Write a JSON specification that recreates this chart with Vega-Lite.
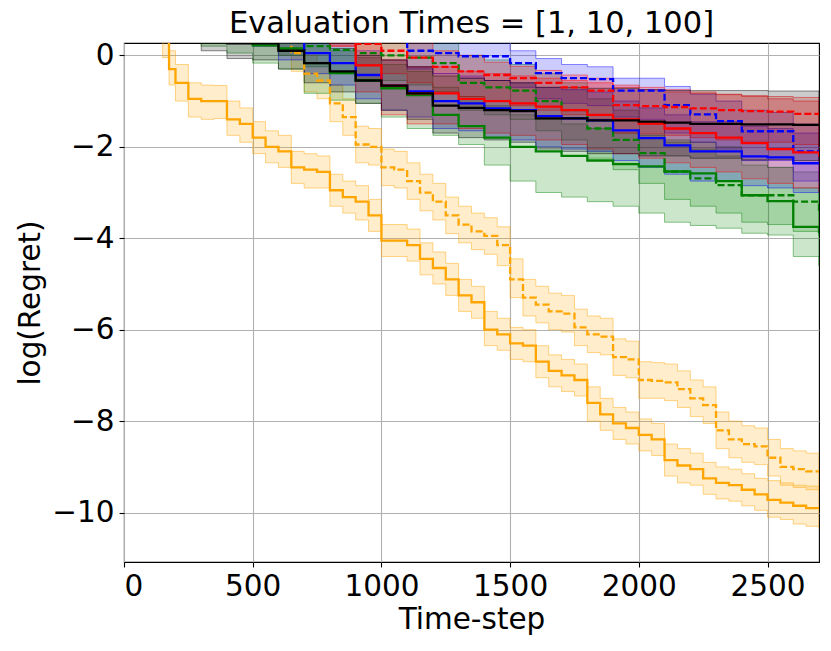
{
  "$schema": "https://vega.github.io/schema/vega-lite/v6.json",
  "autosize": {"type": "none"},
  "padding": {"left": 124, "top": 43, "right": 12, "bottom": 89},
  "width": 695,
  "height": 519,
  "background": "white",
  "title": {
    "text": "Evaluation Times = [1, 10, 100]",
    "font": "DejaVu Sans",
    "fontSize": 30.5,
    "fontWeight": "normal",
    "color": "black",
    "offset": 1
  },
  "datasets": {
    "runs": [
      {"m":"M1","s":"S1","x":0,"y":1.5,"lo":1.1,"hi":1.9},
      {"m":"M1","s":"S1","x":50,"y":1.2,"lo":0.8,"hi":1.6},
      {"m":"M1","s":"S1","x":100,"y":0.8,"lo":0.4,"hi":1.2},
      {"m":"M1","s":"S1","x":150,"y":0.35,"lo":-0.05,"hi":0.75},
      {"m":"M1","s":"S1","x":175,"y":-0.3,"lo":-0.65,"hi":0.1},
      {"m":"M1","s":"S1","x":200,"y":-0.6,"lo":-1.0,"hi":-0.2},
      {"m":"M1","s":"S1","x":250,"y":-0.95,"lo":-1.35,"hi":-0.6},
      {"m":"M1","s":"S1","x":300,"y":-1.0,"lo":-1.4,"hi":-0.65},
      {"m":"M1","s":"S1","x":350,"y":-1.0,"lo":-1.38,"hi":-0.66},
      {"m":"M1","s":"S1","x":400,"y":-1.4,"lo":-1.75,"hi":-1.0},
      {"m":"M1","s":"S1","x":450,"y":-1.5,"lo":-1.9,"hi":-1.15},
      {"m":"M1","s":"S1","x":500,"y":-1.8,"lo":-2.15,"hi":-1.45},
      {"m":"M1","s":"S1","x":550,"y":-2.0,"lo":-2.35,"hi":-1.65},
      {"m":"M1","s":"S1","x":600,"y":-2.1,"lo":-2.45,"hi":-1.75},
      {"m":"M1","s":"S1","x":650,"y":-2.45,"lo":-2.8,"hi":-2.1},
      {"m":"M1","s":"S1","x":700,"y":-2.5,"lo":-2.9,"hi":-2.15},
      {"m":"M1","s":"S1","x":750,"y":-2.55,"lo":-2.9,"hi":-2.2},
      {"m":"M1","s":"S1","x":800,"y":-2.95,"lo":-3.3,"hi":-2.6},
      {"m":"M1","s":"S1","x":850,"y":-3.1,"lo":-3.45,"hi":-2.75},
      {"m":"M1","s":"S1","x":900,"y":-3.2,"lo":-3.6,"hi":-2.85},
      {"m":"M1","s":"S1","x":950,"y":-3.5,"lo":-3.85,"hi":-3.15},
      {"m":"M1","s":"S1","x":1000,"y":-4.05,"lo":-4.4,"hi":-3.7},
      {"m":"M1","s":"S1","x":1050,"y":-4.05,"lo":-4.4,"hi":-3.7},
      {"m":"M1","s":"S1","x":1100,"y":-4.15,"lo":-4.5,"hi":-3.8},
      {"m":"M1","s":"S1","x":1150,"y":-4.45,"lo":-4.8,"hi":-4.1},
      {"m":"M1","s":"S1","x":1200,"y":-4.65,"lo":-5.0,"hi":-4.3},
      {"m":"M1","s":"S1","x":1250,"y":-4.9,"lo":-5.25,"hi":-4.55},
      {"m":"M1","s":"S1","x":1300,"y":-5.25,"lo":-5.6,"hi":-4.9},
      {"m":"M1","s":"S1","x":1350,"y":-5.4,"lo":-5.75,"hi":-5.05},
      {"m":"M1","s":"S1","x":1400,"y":-6.0,"lo":-6.35,"hi":-5.6},
      {"m":"M1","s":"S1","x":1450,"y":-6.1,"lo":-6.45,"hi":-5.75},
      {"m":"M1","s":"S1","x":1500,"y":-6.3,"lo":-6.65,"hi":-5.95},
      {"m":"M1","s":"S1","x":1550,"y":-6.35,"lo":-6.7,"hi":-6.0},
      {"m":"M1","s":"S1","x":1600,"y":-6.7,"lo":-7.05,"hi":-6.35},
      {"m":"M1","s":"S1","x":1650,"y":-6.9,"lo":-7.25,"hi":-6.55},
      {"m":"M1","s":"S1","x":1700,"y":-7.0,"lo":-7.35,"hi":-6.65},
      {"m":"M1","s":"S1","x":1750,"y":-7.1,"lo":-7.45,"hi":-6.75},
      {"m":"M1","s":"S1","x":1800,"y":-7.6,"lo":-8.0,"hi":-7.25},
      {"m":"M1","s":"S1","x":1850,"y":-7.85,"lo":-8.2,"hi":-7.5},
      {"m":"M1","s":"S1","x":1900,"y":-8.05,"lo":-8.4,"hi":-7.7},
      {"m":"M1","s":"S1","x":1950,"y":-8.15,"lo":-8.5,"hi":-7.8},
      {"m":"M1","s":"S1","x":2000,"y":-8.3,"lo":-8.65,"hi":-7.95},
      {"m":"M1","s":"S1","x":2050,"y":-8.4,"lo":-8.75,"hi":-8.05},
      {"m":"M1","s":"S1","x":2100,"y":-8.85,"lo":-9.2,"hi":-8.5},
      {"m":"M1","s":"S1","x":2150,"y":-8.97,"lo":-9.35,"hi":-8.6},
      {"m":"M1","s":"S1","x":2200,"y":-9.05,"lo":-9.4,"hi":-8.7},
      {"m":"M1","s":"S1","x":2250,"y":-9.25,"lo":-9.6,"hi":-8.9},
      {"m":"M1","s":"S1","x":2300,"y":-9.35,"lo":-9.7,"hi":-9.0},
      {"m":"M1","s":"S1","x":2350,"y":-9.4,"lo":-9.75,"hi":-9.05},
      {"m":"M1","s":"S1","x":2400,"y":-9.5,"lo":-9.85,"hi":-9.15},
      {"m":"M1","s":"S1","x":2450,"y":-9.6,"lo":-9.95,"hi":-9.25},
      {"m":"M1","s":"S1","x":2500,"y":-9.72,"lo":-10.1,"hi":-9.3},
      {"m":"M1","s":"S1","x":2550,"y":-9.78,"lo":-10.15,"hi":-9.35},
      {"m":"M1","s":"S1","x":2600,"y":-9.85,"lo":-10.25,"hi":-9.4},
      {"m":"M1","s":"S1","x":2650,"y":-9.9,"lo":-10.3,"hi":-9.42},
      {"m":"M1","s":"S1","x":2700,"y":-9.92,"lo":-10.35,"hi":-9.45},

      {"m":"M1","s":"S2","x":0,"y":1.8,"lo":1.4,"hi":2.2},
      {"m":"M1","s":"S2","x":500,"y":0.8,"lo":0.4,"hi":1.2},
      {"m":"M1","s":"S2","x":550,"y":0.6,"lo":0.2,"hi":1.0},
      {"m":"M1","s":"S2","x":600,"y":0.4,"lo":0.0,"hi":0.8},
      {"m":"M1","s":"S2","x":650,"y":0.05,"lo":-0.35,"hi":0.45},
      {"m":"M1","s":"S2","x":700,"y":-0.4,"lo":-0.8,"hi":0.0},
      {"m":"M1","s":"S2","x":750,"y":-0.55,"lo":-0.95,"hi":-0.15},
      {"m":"M1","s":"S2","x":800,"y":-1.05,"lo":-1.45,"hi":-0.65},
      {"m":"M1","s":"S2","x":850,"y":-1.35,"lo":-1.75,"hi":-0.95},
      {"m":"M1","s":"S2","x":900,"y":-1.95,"lo":-2.35,"hi":-1.55},
      {"m":"M1","s":"S2","x":950,"y":-2.0,"lo":-2.4,"hi":-1.6},
      {"m":"M1","s":"S2","x":1000,"y":-2.45,"lo":-2.85,"hi":-2.05},
      {"m":"M1","s":"S2","x":1050,"y":-2.5,"lo":-2.9,"hi":-2.1},
      {"m":"M1","s":"S2","x":1100,"y":-2.75,"lo":-3.15,"hi":-2.35},
      {"m":"M1","s":"S2","x":1150,"y":-3.0,"lo":-3.4,"hi":-2.6},
      {"m":"M1","s":"S2","x":1200,"y":-3.2,"lo":-3.6,"hi":-2.8},
      {"m":"M1","s":"S2","x":1250,"y":-3.5,"lo":-3.9,"hi":-3.1},
      {"m":"M1","s":"S2","x":1300,"y":-3.7,"lo":-4.1,"hi":-3.3},
      {"m":"M1","s":"S2","x":1350,"y":-3.85,"lo":-4.25,"hi":-3.45},
      {"m":"M1","s":"S2","x":1400,"y":-3.95,"lo":-4.35,"hi":-3.55},
      {"m":"M1","s":"S2","x":1450,"y":-4.15,"lo":-4.6,"hi":-3.75},
      {"m":"M1","s":"S2","x":1500,"y":-4.9,"lo":-5.3,"hi":-4.45},
      {"m":"M1","s":"S2","x":1550,"y":-5.3,"lo":-5.7,"hi":-4.9},
      {"m":"M1","s":"S2","x":1600,"y":-5.45,"lo":-5.85,"hi":-5.05},
      {"m":"M1","s":"S2","x":1650,"y":-5.6,"lo":-6.0,"hi":-5.2},
      {"m":"M1","s":"S2","x":1700,"y":-5.65,"lo":-6.05,"hi":-5.25},
      {"m":"M1","s":"S2","x":1750,"y":-5.95,"lo":-6.35,"hi":-5.55},
      {"m":"M1","s":"S2","x":1800,"y":-6.1,"lo":-6.5,"hi":-5.7},
      {"m":"M1","s":"S2","x":1850,"y":-6.15,"lo":-6.55,"hi":-5.75},
      {"m":"M1","s":"S2","x":1900,"y":-6.6,"lo":-7.0,"hi":-6.2},
      {"m":"M1","s":"S2","x":1950,"y":-6.65,"lo":-7.05,"hi":-6.25},
      {"m":"M1","s":"S2","x":2000,"y":-7.1,"lo":-7.5,"hi":-6.7},
      {"m":"M1","s":"S2","x":2050,"y":-7.12,"lo":-7.5,"hi":-6.72},
      {"m":"M1","s":"S2","x":2100,"y":-7.15,"lo":-7.55,"hi":-6.75},
      {"m":"M1","s":"S2","x":2150,"y":-7.3,"lo":-7.7,"hi":-6.9},
      {"m":"M1","s":"S2","x":2200,"y":-7.5,"lo":-7.9,"hi":-7.1},
      {"m":"M1","s":"S2","x":2250,"y":-7.65,"lo":-8.05,"hi":-7.25},
      {"m":"M1","s":"S2","x":2300,"y":-8.2,"lo":-8.6,"hi":-7.8},
      {"m":"M1","s":"S2","x":2350,"y":-8.4,"lo":-8.8,"hi":-8.0},
      {"m":"M1","s":"S2","x":2400,"y":-8.5,"lo":-8.9,"hi":-8.1},
      {"m":"M1","s":"S2","x":2450,"y":-8.55,"lo":-8.95,"hi":-8.15},
      {"m":"M1","s":"S2","x":2500,"y":-8.8,"lo":-9.2,"hi":-8.4},
      {"m":"M1","s":"S2","x":2550,"y":-9.0,"lo":-9.4,"hi":-8.6},
      {"m":"M1","s":"S2","x":2600,"y":-9.05,"lo":-9.45,"hi":-8.65},
      {"m":"M1","s":"S2","x":2650,"y":-9.1,"lo":-9.5,"hi":-8.7},
      {"m":"M1","s":"S2","x":2700,"y":-9.12,"lo":-9.5,"hi":-8.72},

      {"m":"M2","s":"S1","x":0,"y":0.8,"lo":0.5,"hi":1.1},
      {"m":"M2","s":"S1","x":300,"y":0.6,"lo":0.2,"hi":1.0},
      {"m":"M2","s":"S1","x":400,"y":0.45,"lo":0.05,"hi":0.9},
      {"m":"M2","s":"S1","x":500,"y":0.22,"lo":-0.17,"hi":0.7},
      {"m":"M2","s":"S1","x":600,"y":0.15,"lo":-0.3,"hi":0.6},
      {"m":"M2","s":"S1","x":700,"y":-0.17,"lo":-0.83,"hi":0.3},
      {"m":"M2","s":"S1","x":800,"y":-0.39,"lo":-0.98,"hi":0.1},
      {"m":"M2","s":"S1","x":900,"y":-0.55,"lo":-1.05,"hi":-0.05},
      {"m":"M2","s":"S1","x":1000,"y":-0.72,"lo":-1.35,"hi":-0.2},
      {"m":"M2","s":"S1","x":1100,"y":-0.87,"lo":-1.6,"hi":-0.35},
      {"m":"M2","s":"S1","x":1200,"y":-1.3,"lo":-1.75,"hi":-0.7},
      {"m":"M2","s":"S1","x":1300,"y":-1.55,"lo":-1.95,"hi":-0.9},
      {"m":"M2","s":"S1","x":1400,"y":-1.8,"lo":-2.4,"hi":-1.1},
      {"m":"M2","s":"S1","x":1500,"y":-2.0,"lo":-2.75,"hi":-1.3},
      {"m":"M2","s":"S1","x":1600,"y":-2.1,"lo":-3.0,"hi":-1.4},
      {"m":"M2","s":"S1","x":1700,"y":-2.2,"lo":-3.1,"hi":-1.5},
      {"m":"M2","s":"S1","x":1800,"y":-2.3,"lo":-3.2,"hi":-1.6},
      {"m":"M2","s":"S1","x":1900,"y":-2.38,"lo":-3.3,"hi":-1.7},
      {"m":"M2","s":"S1","x":2000,"y":-2.43,"lo":-3.45,"hi":-1.75},
      {"m":"M2","s":"S1","x":2100,"y":-2.54,"lo":-3.65,"hi":-1.85},
      {"m":"M2","s":"S1","x":2200,"y":-2.58,"lo":-3.72,"hi":-1.9},
      {"m":"M2","s":"S1","x":2300,"y":-2.75,"lo":-3.78,"hi":-2.0},
      {"m":"M2","s":"S1","x":2400,"y":-3.06,"lo":-3.89,"hi":-2.3},
      {"m":"M2","s":"S1","x":2500,"y":-3.19,"lo":-3.93,"hi":-2.45},
      {"m":"M2","s":"S1","x":2600,"y":-3.75,"lo":-4.4,"hi":-2.9},
      {"m":"M2","s":"S1","x":2700,"y":-3.89,"lo":-4.6,"hi":-3.1},

      {"m":"M2","s":"S2","x":0,"y":0.8,"lo":0.5,"hi":1.1},
      {"m":"M2","s":"S2","x":500,"y":0.7,"lo":0.3,"hi":1.0},
      {"m":"M2","s":"S2","x":600,"y":0.45,"lo":0.0,"hi":0.9},
      {"m":"M2","s":"S2","x":700,"y":0.2,"lo":-0.25,"hi":0.7},
      {"m":"M2","s":"S2","x":800,"y":0.12,"lo":-0.4,"hi":0.6},
      {"m":"M2","s":"S2","x":900,"y":0.05,"lo":-0.5,"hi":0.55},
      {"m":"M2","s":"S2","x":1000,"y":0.0,"lo":-0.55,"hi":0.5},
      {"m":"M2","s":"S2","x":1100,"y":-0.05,"lo":-0.65,"hi":0.45},
      {"m":"M2","s":"S2","x":1200,"y":-0.17,"lo":-0.8,"hi":0.35},
      {"m":"M2","s":"S2","x":1300,"y":-0.6,"lo":-1.2,"hi":0.0},
      {"m":"M2","s":"S2","x":1400,"y":-0.7,"lo":-1.3,"hi":-0.1},
      {"m":"M2","s":"S2","x":1500,"y":-0.77,"lo":-1.4,"hi":-0.2},
      {"m":"M2","s":"S2","x":1600,"y":-1.0,"lo":-1.65,"hi":-0.4},
      {"m":"M2","s":"S2","x":1700,"y":-1.2,"lo":-1.85,"hi":-0.6},
      {"m":"M2","s":"S2","x":1800,"y":-1.6,"lo":-2.25,"hi":-0.95},
      {"m":"M2","s":"S2","x":1900,"y":-1.85,"lo":-2.5,"hi":-1.2},
      {"m":"M2","s":"S2","x":2000,"y":-2.14,"lo":-2.8,"hi":-1.5},
      {"m":"M2","s":"S2","x":2100,"y":-2.54,"lo":-3.15,"hi":-1.9},
      {"m":"M2","s":"S2","x":2200,"y":-2.69,"lo":-3.3,"hi":-2.05},
      {"m":"M2","s":"S2","x":2300,"y":-2.84,"lo":-3.45,"hi":-2.2},
      {"m":"M2","s":"S2","x":2400,"y":-3.06,"lo":-3.65,"hi":-2.4},
      {"m":"M2","s":"S2","x":2500,"y":-3.06,"lo":-3.7,"hi":-2.45},
      {"m":"M2","s":"S2","x":2600,"y":-3.2,"lo":-3.85,"hi":-2.55},
      {"m":"M2","s":"S2","x":2700,"y":-3.4,"lo":-3.95,"hi":-2.75},

      {"m":"M3","s":"S1","x":0,"y":0.8,"lo":0.5,"hi":1.1},
      {"m":"M3","s":"S1","x":500,"y":0.6,"lo":0.2,"hi":1.0},
      {"m":"M3","s":"S1","x":600,"y":0.3,"lo":-0.1,"hi":0.7},
      {"m":"M3","s":"S1","x":700,"y":0.05,"lo":-0.4,"hi":0.5},
      {"m":"M3","s":"S1","x":800,"y":-0.17,"lo":-0.65,"hi":0.3},
      {"m":"M3","s":"S1","x":900,"y":-0.43,"lo":-0.95,"hi":0.1},
      {"m":"M3","s":"S1","x":1000,"y":-0.66,"lo":-1.2,"hi":-0.1},
      {"m":"M3","s":"S1","x":1100,"y":-0.79,"lo":-1.35,"hi":-0.25},
      {"m":"M3","s":"S1","x":1200,"y":-1.0,"lo":-1.6,"hi":-0.4},
      {"m":"M3","s":"S1","x":1300,"y":-1.05,"lo":-1.65,"hi":-0.45},
      {"m":"M3","s":"S1","x":1400,"y":-1.16,"lo":-1.8,"hi":-0.55},
      {"m":"M3","s":"S1","x":1500,"y":-1.2,"lo":-1.85,"hi":-0.6},
      {"m":"M3","s":"S1","x":1600,"y":-1.33,"lo":-2.0,"hi":-0.7},
      {"m":"M3","s":"S1","x":1700,"y":-1.38,"lo":-2.05,"hi":-0.75},
      {"m":"M3","s":"S1","x":1800,"y":-1.42,"lo":-2.1,"hi":-0.8},
      {"m":"M3","s":"S1","x":1900,"y":-1.64,"lo":-2.3,"hi":-1.0},
      {"m":"M3","s":"S1","x":2000,"y":-1.81,"lo":-2.45,"hi":-1.15},
      {"m":"M3","s":"S1","x":2100,"y":-1.97,"lo":-2.6,"hi":-1.3},
      {"m":"M3","s":"S1","x":2200,"y":-2.1,"lo":-2.75,"hi":-1.45},
      {"m":"M3","s":"S1","x":2300,"y":-2.1,"lo":-2.75,"hi":-1.45},
      {"m":"M3","s":"S1","x":2400,"y":-2.21,"lo":-2.85,"hi":-1.55},
      {"m":"M3","s":"S1","x":2500,"y":-2.23,"lo":-2.9,"hi":-1.6},
      {"m":"M3","s":"S1","x":2600,"y":-2.36,"lo":-3.0,"hi":-1.7},
      {"m":"M3","s":"S1","x":2700,"y":-2.36,"lo":-3.0,"hi":-1.7},

      {"m":"M3","s":"S2","x":0,"y":0.9,"lo":0.6,"hi":1.2},
      {"m":"M3","s":"S2","x":1000,"y":0.6,"lo":0.3,"hi":1.0},
      {"m":"M3","s":"S2","x":1100,"y":0.1,"lo":-0.3,"hi":0.4},
      {"m":"M3","s":"S2","x":1200,"y":0.05,"lo":-0.4,"hi":0.35},
      {"m":"M3","s":"S2","x":1300,"y":-0.02,"lo":-0.5,"hi":0.28},
      {"m":"M3","s":"S2","x":1400,"y":-0.02,"lo":-0.55,"hi":0.28},
      {"m":"M3","s":"S2","x":1500,"y":-0.17,"lo":-0.7,"hi":0.1},
      {"m":"M3","s":"S2","x":1600,"y":-0.39,"lo":-0.95,"hi":-0.07},
      {"m":"M3","s":"S2","x":1700,"y":-0.5,"lo":-1.05,"hi":-0.2},
      {"m":"M3","s":"S2","x":1800,"y":-0.52,"lo":-1.1,"hi":-0.25},
      {"m":"M3","s":"S2","x":1900,"y":-0.77,"lo":-1.35,"hi":-0.5},
      {"m":"M3","s":"S2","x":2000,"y":-0.77,"lo":-1.4,"hi":-0.5},
      {"m":"M3","s":"S2","x":2100,"y":-1.09,"lo":-1.7,"hi":-0.68},
      {"m":"M3","s":"S2","x":2200,"y":-1.29,"lo":-1.9,"hi":-0.85},
      {"m":"M3","s":"S2","x":2300,"y":-1.44,"lo":-2.05,"hi":-1.0},
      {"m":"M3","s":"S2","x":2400,"y":-1.66,"lo":-2.3,"hi":-1.2},
      {"m":"M3","s":"S2","x":2500,"y":-1.66,"lo":-2.3,"hi":-1.25},
      {"m":"M3","s":"S2","x":2600,"y":-2.1,"lo":-2.75,"hi":-1.5},
      {"m":"M3","s":"S2","x":2700,"y":-2.1,"lo":-2.75,"hi":-1.55},

      {"m":"M4","s":"S1","x":0,"y":0.9,"lo":0.6,"hi":1.2},
      {"m":"M4","s":"S1","x":800,"y":0.6,"lo":0.2,"hi":1.0},
      {"m":"M4","s":"S1","x":900,"y":-0.22,"lo":-0.8,"hi":0.3},
      {"m":"M4","s":"S1","x":1000,"y":-0.66,"lo":-1.3,"hi":-0.1},
      {"m":"M4","s":"S1","x":1100,"y":-0.83,"lo":-1.5,"hi":-0.25},
      {"m":"M4","s":"S1","x":1200,"y":-0.83,"lo":-1.5,"hi":-0.25},
      {"m":"M4","s":"S1","x":1300,"y":-0.95,"lo":-1.6,"hi":-0.35},
      {"m":"M4","s":"S1","x":1400,"y":-1.0,"lo":-1.7,"hi":-0.4},
      {"m":"M4","s":"S1","x":1500,"y":-1.05,"lo":-1.75,"hi":-0.45},
      {"m":"M4","s":"S1","x":1600,"y":-1.12,"lo":-1.85,"hi":-0.5},
      {"m":"M4","s":"S1","x":1700,"y":-1.2,"lo":-1.95,"hi":-0.55},
      {"m":"M4","s":"S1","x":1800,"y":-1.3,"lo":-2.05,"hi":-0.6},
      {"m":"M4","s":"S1","x":1900,"y":-1.4,"lo":-2.15,"hi":-0.65},
      {"m":"M4","s":"S1","x":2000,"y":-1.49,"lo":-2.25,"hi":-0.7},
      {"m":"M4","s":"S1","x":2100,"y":-1.6,"lo":-2.35,"hi":-0.75},
      {"m":"M4","s":"S1","x":2200,"y":-1.7,"lo":-2.45,"hi":-0.8},
      {"m":"M4","s":"S1","x":2300,"y":-1.8,"lo":-2.55,"hi":-0.85},
      {"m":"M4","s":"S1","x":2400,"y":-1.92,"lo":-2.7,"hi":-0.9},
      {"m":"M4","s":"S1","x":2500,"y":-2.05,"lo":-2.8,"hi":-0.95},
      {"m":"M4","s":"S1","x":2600,"y":-2.12,"lo":-2.9,"hi":-1.0},
      {"m":"M4","s":"S1","x":2700,"y":-2.21,"lo":-3.0,"hi":-1.05},

      {"m":"M4","s":"S2","x":0,"y":0.9,"lo":0.6,"hi":1.2},
      {"m":"M4","s":"S2","x":800,"y":0.6,"lo":0.2,"hi":1.0},
      {"m":"M4","s":"S2","x":900,"y":0.25,"lo":-0.2,"hi":0.6},
      {"m":"M4","s":"S2","x":1000,"y":0.1,"lo":-0.4,"hi":0.45},
      {"m":"M4","s":"S2","x":1100,"y":-0.05,"lo":-0.6,"hi":0.3},
      {"m":"M4","s":"S2","x":1200,"y":-0.25,"lo":-0.8,"hi":0.1},
      {"m":"M4","s":"S2","x":1300,"y":-0.35,"lo":-0.9,"hi":0.0},
      {"m":"M4","s":"S2","x":1400,"y":-0.43,"lo":-1.0,"hi":-0.15},
      {"m":"M4","s":"S2","x":1500,"y":-0.5,"lo":-1.1,"hi":-0.24},
      {"m":"M4","s":"S2","x":1600,"y":-0.6,"lo":-1.2,"hi":-0.33},
      {"m":"M4","s":"S2","x":1700,"y":-0.7,"lo":-1.3,"hi":-0.43},
      {"m":"M4","s":"S2","x":1800,"y":-0.77,"lo":-1.4,"hi":-0.5},
      {"m":"M4","s":"S2","x":1900,"y":-1.09,"lo":-1.7,"hi":-0.7},
      {"m":"M4","s":"S2","x":2000,"y":-1.11,"lo":-1.72,"hi":-0.75},
      {"m":"M4","s":"S2","x":2100,"y":-1.13,"lo":-1.75,"hi":-0.8},
      {"m":"M4","s":"S2","x":2200,"y":-1.16,"lo":-1.8,"hi":-0.83},
      {"m":"M4","s":"S2","x":2300,"y":-1.2,"lo":-1.85,"hi":-0.86},
      {"m":"M4","s":"S2","x":2400,"y":-1.22,"lo":-1.88,"hi":-0.88},
      {"m":"M4","s":"S2","x":2500,"y":-1.23,"lo":-1.9,"hi":-0.9},
      {"m":"M4","s":"S2","x":2600,"y":-1.28,"lo":-1.95,"hi":-0.92},
      {"m":"M4","s":"S2","x":2700,"y":-1.31,"lo":-2.0,"hi":-0.95},

      {"m":"M5","s":"S1","x":0,"y":0.6,"lo":0.3,"hi":0.9},
      {"m":"M5","s":"S1","x":300,"y":0.45,"lo":0.1,"hi":0.9},
      {"m":"M5","s":"S1","x":400,"y":0.26,"lo":-0.07,"hi":0.7},
      {"m":"M5","s":"S1","x":500,"y":0.26,"lo":-0.1,"hi":0.7},
      {"m":"M5","s":"S1","x":600,"y":0.1,"lo":-0.3,"hi":0.55},
      {"m":"M5","s":"S1","x":700,"y":-0.17,"lo":-0.6,"hi":0.3},
      {"m":"M5","s":"S1","x":800,"y":-0.35,"lo":-0.8,"hi":0.15},
      {"m":"M5","s":"S1","x":900,"y":-0.55,"lo":-1.05,"hi":0.0},
      {"m":"M5","s":"S1","x":1000,"y":-0.66,"lo":-1.2,"hi":-0.1},
      {"m":"M5","s":"S1","x":1100,"y":-0.83,"lo":-1.4,"hi":-0.25},
      {"m":"M5","s":"S1","x":1200,"y":-1.1,"lo":-1.7,"hi":-0.45},
      {"m":"M5","s":"S1","x":1300,"y":-1.15,"lo":-1.8,"hi":-0.5},
      {"m":"M5","s":"S1","x":1400,"y":-1.2,"lo":-1.85,"hi":-0.55},
      {"m":"M5","s":"S1","x":1500,"y":-1.22,"lo":-1.9,"hi":-0.6},
      {"m":"M5","s":"S1","x":1600,"y":-1.38,"lo":-2.05,"hi":-0.7},
      {"m":"M5","s":"S1","x":1700,"y":-1.38,"lo":-2.1,"hi":-0.7},
      {"m":"M5","s":"S1","x":1800,"y":-1.42,"lo":-2.15,"hi":-0.72},
      {"m":"M5","s":"S1","x":1900,"y":-1.42,"lo":-2.15,"hi":-0.72},
      {"m":"M5","s":"S1","x":2000,"y":-1.45,"lo":-2.2,"hi":-0.75},
      {"m":"M5","s":"S1","x":2100,"y":-1.47,"lo":-2.2,"hi":-0.77},
      {"m":"M5","s":"S1","x":2200,"y":-1.5,"lo":-2.25,"hi":-0.77},
      {"m":"M5","s":"S1","x":2300,"y":-1.5,"lo":-2.25,"hi":-0.77},
      {"m":"M5","s":"S1","x":2400,"y":-1.51,"lo":-2.28,"hi":-0.77},
      {"m":"M5","s":"S1","x":2500,"y":-1.51,"lo":-2.28,"hi":-0.78},
      {"m":"M5","s":"S1","x":2600,"y":-1.52,"lo":-2.3,"hi":-0.78},
      {"m":"M5","s":"S1","x":2700,"y":-1.52,"lo":-2.3,"hi":-0.78}
    ]
  },
  "data": {"name": "runs"},
  "encoding": {
    "x": {
      "field": "x",
      "type": "quantitative",
      "title": "Time-step",
      "scale": {"domain": [0, 2700], "nice": false, "zero": false},
      "axis": {"values": [0, 500, 1000, 1500, 2000, 2500], "format": "d"}
    }
  },
  "layer": [
    {
      "mark": {
        "type": "area",
        "interpolate": "step-after",
        "clip": true,
        "fillOpacity": 0.2,
        "strokeWidth": 1,
        "strokeOpacity": 0.45
      },
      "encoding": {
        "y": {
          "field": "lo",
          "type": "quantitative",
          "title": "log(Regret)",
          "scale": {"domain": [-11.08, 0.27], "nice": false, "zero": false},
          "axis": {"values": [-10, -8, -6, -4, -2, 0]}
        },
        "y2": {"field": "hi"},
        "color": {
          "field": "m",
          "type": "nominal",
          "scale": {"domain": ["M1", "M2", "M3", "M4", "M5"], "range": ["#ffa500", "#008000", "#0000ff", "#ff0000", "#000000"]},
          "legend": null
        },
        "stroke": {
          "field": "m",
          "type": "nominal",
          "scale": {"domain": ["M1", "M2", "M3", "M4", "M5"], "range": ["#ffa500", "#008000", "#0000ff", "#ff0000", "#000000"]},
          "legend": null
        },
        "detail": {"field": "s", "type": "nominal"}
      }
    },
    {
      "mark": {
        "type": "line",
        "interpolate": "step-after",
        "clip": true,
        "strokeWidth": 2.3
      },
      "encoding": {
        "y": {"field": "y", "type": "quantitative"},
        "color": {"field": "m", "type": "nominal", "legend": null},
        "strokeDash": {
          "field": "s",
          "type": "nominal",
          "scale": {"domain": ["S1", "S2"], "range": [[1, 0], [7, 3]]},
          "legend": null
        }
      }
    }
  ],
  "config": {
    "view": {"stroke": "black", "strokeWidth": 1.1},
    "axis": {
      "labelFont": "DejaVu Sans",
      "labelFontSize": 29.5,
      "labelColor": "black",
      "titleFont": "DejaVu Sans",
      "titleFontSize": 29.5,
      "titleFontWeight": "normal",
      "titleColor": "black",
      "domain": false,
      "grid": true,
      "gridColor": "#b0b0b0",
      "gridWidth": 1.1,
      "tickColor": "black",
      "tickSize": 5,
      "tickWidth": 1.1,
      "labelPadding": 5
    },
    "axisX": {"titlePadding": 5},
    "axisY": {"titlePadding": 6}
  }
}
